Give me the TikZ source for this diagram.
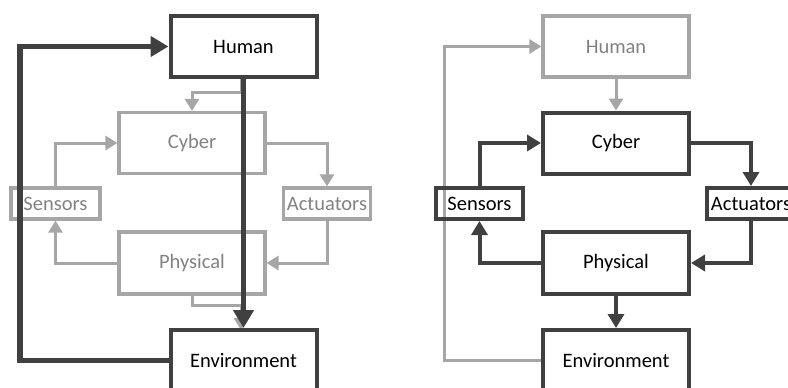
\documentclass[tikz,border=0pt]{standalone}
\usepackage{fontspec}
\setmainfont{Carlito}
\usetikzlibrary{arrows.meta}
\definecolor{dk}{HTML}{404040}
\definecolor{lt}{HTML}{A6A6A6}
\definecolor{lttext}{HTML}{828282}
\tikzset{
  box/.style={draw, rectangle, inner sep=0pt, font=\fontsize{20.5}{24}\selectfont},
  darkbox/.style={box, draw=dk, line width=4pt, text=black},
  lightbox/.style={box, draw=lt, line width=3.3pt, text=lttext},
  bigbox/.style={minimum width=146pt, minimum height=61pt},
  smallbox/.style={minimum width=88pt, minimum height=31pt},
  lightline/.style={draw=lt, line width=3pt, -{Triangle[length=12pt,width=14pt]}},
  darkline/.style={draw=dk, line width=4pt, -{Triangle[length=14pt,width=16pt]}},
  thickline/.style={draw=dk, line width=5.3pt, -{Triangle[length=18pt,width=20pt]}},
}
\begin{document}
\begin{tikzpicture}[x=1pt, y=-1pt]
\useasboundingbox (0,0) rectangle (788,388);
\clip (0,0) rectangle (788,388);
% ---------------- left diagram: light parts ----------------
\node[lightbox, bigbox] (cybL) at (192,143) {Cyber};
\node[lightbox, smallbox, minimum width=89pt] (senL) at (55.5,203.5) {Sensors};
\node[lightbox, smallbox, minimum width=87pt] (actL) at (327,203.5) {Actuators};
\node[lightbox, bigbox, minimum height=62pt] (phyL) at (192,263) {Physical};
\coordinate (hsL) at (241,77);
\coordinate (ltL) at (241,92);
\coordinate (lbL) at (241,305);
\coordinate (esL) at (241,330);
\draw[lightline] (hsL) -- (ltL) -| (cybL.north);
\draw[lightline] (cybL.east) -| (actL.north);
\draw[lightline] (actL.south) |- (phyL.east);
\draw[lightline] (phyL.west) -| (senL.south);
\draw[lightline] (senL.north) |- (cybL.west);
\draw[lightline] (phyL.south) |- (lbL) -- (esL);
% ---------------- left diagram: dark parts ----------------
\node[darkbox, bigbox] (humL) at (243.5,46.5) {Human};
\node[darkbox, bigbox] (envL) at (243.5,360.5) {Environment};
\coordinate (lcL) at (20,0);
\draw[thickline] (envL.west) -- (envL.west -| lcL) -- (humL.west -| lcL) -- (humL.west);
\draw[thickline] (humL.south) -- (envL.north);
% ---------------- right diagram: light parts ----------------
\node[lightbox, bigbox] (humR) at (616,46.5) {Human};
\node[darkbox, bigbox] (cybR) at (616,143) {Cyber};
\node[darkbox, bigbox] (envR) at (616,360.5) {Environment};
\coordinate (rcR) at (444,0);
\draw[lightline] (envR.west) -- (envR.west -| rcR) -- (humR.west -| rcR) -- (humR.west);
\draw[lightline] (humR.south) -- (cybR.north);
% ---------------- right diagram: dark parts ----------------
\node[darkbox, smallbox, minimum width=87pt] (senR) at (479.5,203.5) {Sensors};
\node[darkbox, smallbox] (actR) at (751,203.5) {Actuators};
\node[darkbox, bigbox, minimum height=62pt] (phyR) at (616,263) {Physical};
\draw[darkline] (senR.north) |- (cybR.west);
\draw[darkline] (cybR.east) -| (actR.north);
\draw[darkline] (actR.south) |- (phyR.east);
\draw[darkline] (phyR.west) -| (senR.south);
\draw[darkline] (phyR.south) -- (envR.north);
\end{tikzpicture}
\end{document}
